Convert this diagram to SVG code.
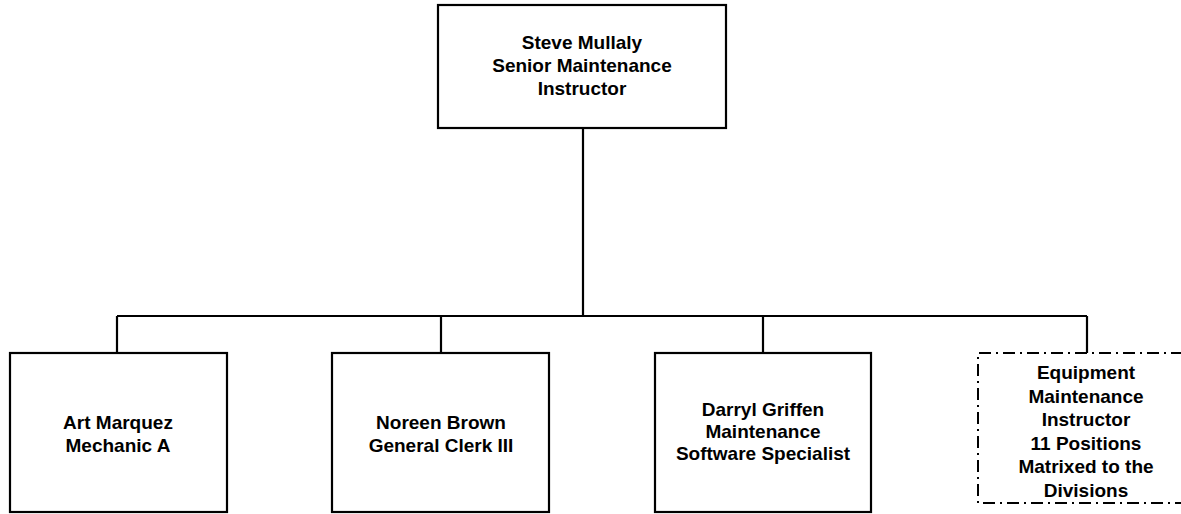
<svg xmlns="http://www.w3.org/2000/svg" width="1181" height="514" viewBox="0 0 1181 514">
<style>
.box{fill:#fff;stroke:#000;stroke-width:2.2}
.dash{fill:#fff;stroke:#000;stroke-width:2;stroke-dasharray:12 5 2 5}
.t{font-family:"Liberation Sans",Arial,sans-serif;font-weight:bold;font-size:19px;fill:#000;text-anchor:middle}
.c{fill:none;stroke:#000;stroke-width:2.2}
</style>
<rect width="1181" height="514" fill="#fff"/>
<g id="connectors">
<path class="c" d="M583 128V316M117 316H1087M117 316V353M441 316V353M763 316V353M1087 316V353"/>
</g>
<g id="steve">
<rect class="box" x="438" y="5" width="288" height="123"/>
<text class="t" x="582" y="49">Steve Mullaly</text>
<text class="t" x="582" y="72">Senior Maintenance</text>
<text class="t" x="582" y="95">Instructor</text>
</g>
<g id="art">
<rect class="box" x="10" y="353" width="217" height="159"/>
<text class="t" x="118" y="429">Art Marquez</text>
<text class="t" x="118" y="452">Mechanic A</text>
</g>
<g id="noreen">
<rect class="box" x="332" y="353" width="217" height="159"/>
<text class="t" x="441" y="429">Noreen Brown</text>
<text class="t" x="441" y="452">General Clerk III</text>
</g>
<g id="darryl">
<rect class="box" x="655" y="353" width="216" height="159"/>
<text class="t" x="763" y="416">Darryl Griffen</text>
<text class="t" x="763" y="438">Maintenance</text>
<text class="t" x="763" y="460">Software Specialist</text>
</g>
<g id="equipment">
<path class="dash" d="M1183 353H978V503H1183"/>
<text class="t" x="1086" y="379">Equipment</text>
<text class="t" x="1086" y="403">Maintenance</text>
<text class="t" x="1086" y="426">Instructor</text>
<text class="t" x="1086" y="450">11 Positions</text>
<text class="t" x="1086" y="473">Matrixed to the</text>
<text class="t" x="1086" y="497">Divisions</text>
</g>
</svg>
